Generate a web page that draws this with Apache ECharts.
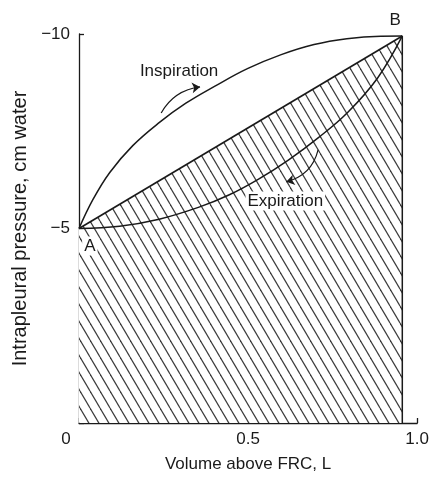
<!DOCTYPE html>
<html>
<head>
<meta charset="utf-8">
<script src="https://cdn.jsdelivr.net/npm/echarts@6/dist/echarts.min.js"></script>
<style>
  html, body { margin: 0; padding: 0; background: #fff; }
  #chart { width: 432px; height: 478px; }
</style>
</head>
<body>
<div id="chart"></div>
<script>
// volume above FRC (L) vs intrapleural pressure (cm water)
const pointA = [0, -5]
const pointB = [0.956, -9.95]

const inspiration = [
  [0, -5], [0.041, -5.74], [0.091, -6.44], [0.159, -7.13], [0.237, -7.72],
  [0.316, -8.22], [0.402, -8.66], [0.498, -9.11], [0.598, -9.47],
  [0.695, -9.73], [0.792, -9.88], [0.892, -9.945], [0.956, -9.95]
]

const expiration = [
  [0, -5], [0.120, -5.06], [0.237, -5.24], [0.355, -5.55], [0.443, -5.86],
  [0.531, -6.27], [0.619, -6.76], [0.707, -7.33], [0.795, -7.99],
  [0.883, -8.87], [0.956, -9.95]
]

const xTicks = [0, 0.5, 1.0]
const yTicks = [-10, -5, 0]

// annotation anchors (data coords)
const labels = [
  { name: 'Inspiration', value: [0.296, -9.05] },
  { name: 'Expiration', value: [0.610, -5.71] },
  { name: 'A', value: [0.032, -4.55] },
  { name: 'B', value: [0.935, -10.36] }
]
const arrows = [
  { coords: [[0.243, -7.97], [0.358, -8.64]], curve: 0.25 },
  { coords: [[0.707, -7.02], [0.613, -6.20]], curve: 0.3 }
]

const ink = '#1a1a1a'
const font = '"Liberation Sans", Arial, Helvetica, sans-serif'

const makeHatch = () => {
  const c = document.createElement('canvas')
  c.width = 10
  c.height = 17
  const ctx = c.getContext('2d')
  ctx.fillStyle = '#fff'
  ctx.fillRect(0, 0, 10, 17)
  ctx.strokeStyle = '#3a3a3a'
  ctx.lineWidth = 1.2
  for (let k = -1; k <= 1; k++) {
    ctx.beginPath()
    ctx.moveTo(k * 10, 0)
    ctx.lineTo(k * 10 + 10, 17)
    ctx.stroke()
  }
  return c
}

const chart = echarts.init(document.getElementById('chart'), null, { renderer: 'canvas' })

chart.setOption({
  animation: false,
  backgroundColor: '#fff',
  textStyle: { fontFamily: font, color: ink },
  grid: { left: 79, right: 12, top: 34, bottom: 55, containLabel: false },
  xAxis: {
    type: 'value',
    min: xTicks[0],
    max: xTicks[xTicks.length - 1],
    interval: 0.5,
    name: 'Volume above FRC, L',
    nameLocation: 'middle',
    nameGap: 33,
    nameTextStyle: { fontSize: 17, color: ink, fontFamily: font },
    splitLine: { show: false },
    axisLine: { lineStyle: { color: ink, width: 1.3 } },
    axisTick: { inside: true, length: 5, lineStyle: { color: ink, width: 1.3 } },
    axisLabel: {
      margin: 8,
      fontSize: 17,
      color: ink,
      fontFamily: font,
      formatter: v => (v === 0 ? '{z|0}' : v.toFixed(1)),
      rich: { z: { fontSize: 17, color: ink, fontFamily: font, padding: [0, 26, 0, 0] } }
    }
  },
  yAxis: {
    type: 'value',
    inverse: true,
    min: yTicks[0],
    max: yTicks[yTicks.length - 1],
    interval: 5,
    name: 'Intrapleural pressure, cm water',
    nameLocation: 'middle',
    nameGap: 40,
    nameTextStyle: { fontSize: 20, color: ink, fontFamily: font },
    splitLine: { show: false },
    axisLine: { lineStyle: { color: ink, width: 1.3 } },
    axisTick: { inside: true, length: 5, lineStyle: { color: ink, width: 1.3 } },
    axisLabel: {
      margin: 9,
      fontSize: 17,
      color: ink,
      fontFamily: font,
      formatter: v => (v === 0 ? '' : String(v).replace('-', '\u2212'))
    }
  },
  series: [
    {
      type: 'line',
      data: [pointA, pointB],
      symbol: 'none',
      lineStyle: { color: ink, width: 1.7 },
      areaStyle: { color: { image: makeHatch(), repeat: 'repeat' }, opacity: 1 },
      z: 2
    },
    {
      type: 'line',
      data: [pointB, [pointB[0], 0]],
      symbol: 'none',
      lineStyle: { color: ink, width: 1.5 },
      z: 3
    },
    {
      type: 'line',
      data: inspiration,
      smooth: 0.4,
      symbol: 'none',
      lineStyle: { color: ink, width: 1.5 },
      z: 3
    },
    {
      type: 'line',
      data: expiration,
      smooth: 0.4,
      symbol: 'none',
      lineStyle: { color: ink, width: 1.5 },
      z: 3
    },
    ...arrows.map(a => ({
      type: 'lines',
      coordinateSystem: 'cartesian2d',
      symbol: ['none', 'arrow'],
      symbolSize: 8,
      lineStyle: { color: ink, width: 1.2, curveness: a.curve, opacity: 1 },
      data: [{ coords: a.coords }],
      z: 4
    })),
    {
      type: 'scatter',
      data: labels,
      symbolSize: 1,
      clip: false,
      itemStyle: { color: 'rgba(0,0,0,0)', opacity: 1 },
      label: {
        show: true,
        position: 'inside',
        formatter: '{b}',
        fontSize: 17,
        color: ink,
        fontFamily: font,
        textBorderWidth: 0,
        backgroundColor: '#fff',
        padding: [1, 2]
      },
      z: 10
    }
  ]
})
</script>
</body>
</html>
